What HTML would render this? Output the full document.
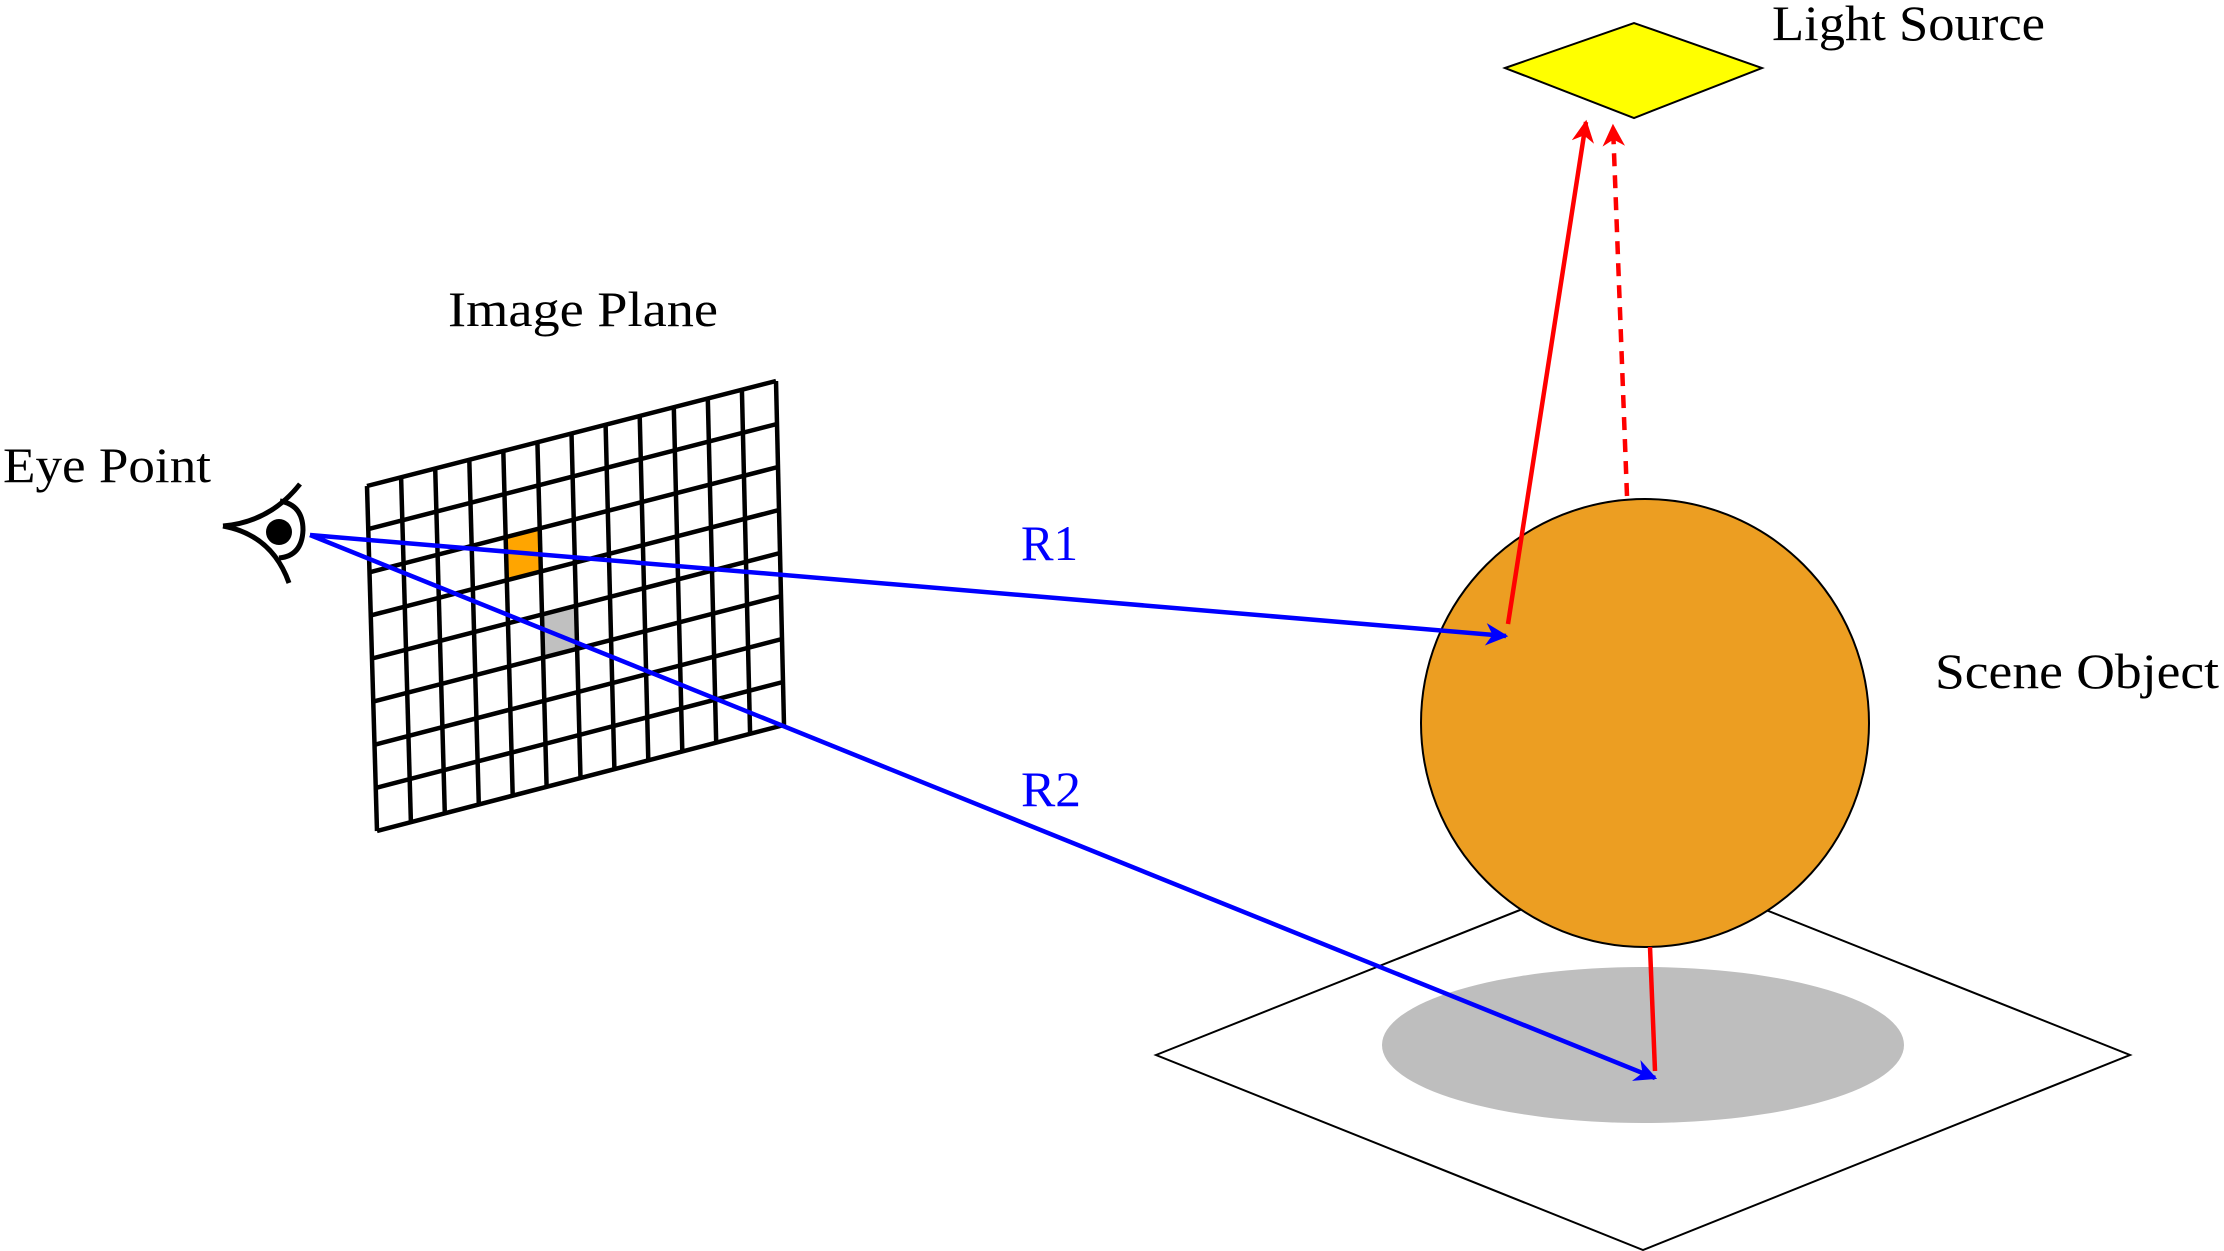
<!DOCTYPE html>
<html><head><meta charset="utf-8"><style>
html,body{margin:0;padding:0;background:#fff;}
svg{display:block;}
text{font-family:"Liberation Serif",serif;}
</style></head><body>
<svg width="2224" height="1251" viewBox="0 0 2224 1251">
<defs>
<marker id="ab" viewBox="0 0 10 10" refX="9" refY="5" markerWidth="6" markerHeight="5" orient="auto" markerUnits="strokeWidth"><path d="M0,0 L10,5 L0,10 L3,5 Z" fill="#0000ff"/></marker>
<marker id="ar" viewBox="0 0 10 10" refX="9" refY="5" markerWidth="6" markerHeight="5" orient="auto" markerUnits="strokeWidth"><path d="M0,0 L10,5 L0,10 L3,5 Z" fill="#ff0000"/></marker>
</defs>
<g id="floor">
<polygon points="1156,1055 1643,861 2130,1055 1643,1250" fill="none" stroke="#000" stroke-width="2"/>
<ellipse cx="1643" cy="1045" rx="261" ry="78" fill="#bebebe"/>
</g>
<circle cx="1645" cy="723" r="224" fill="#ec9e22" stroke="#000" stroke-width="2"/>
<polygon points="1505,68 1634,23 1762,68 1634,118" fill="#ffff00" stroke="#000" stroke-width="2"/>
<g id="grid"></g>
<g fill="none" stroke="#000" stroke-width="5">
<path d="M223,526 Q270,522 300,484"/>
<path d="M223,526 Q272,535 289,583"/>
<path d="M280,501 Q303,505 303,530 Q302,556 279,558"/>
<circle cx="279" cy="532" r="13" fill="#000" stroke="none"/>
</g>
<line x1="310" y1="535" x2="1506" y2="636" stroke="#0000ff" stroke-width="4.5" marker-end="url(#ab)"/>
<line x1="310" y1="535" x2="1655" y2="1078" stroke="#0000ff" stroke-width="4.5" marker-end="url(#ab)"/>
<line x1="1508" y1="624" x2="1586" y2="122" stroke="#ff0000" stroke-width="4.5" marker-end="url(#ar)"/>
<line x1="1627" y1="496" x2="1613" y2="126" stroke="#ff0000" stroke-width="4.5" stroke-dasharray="13,9" marker-end="url(#ar)"/>
<line x1="1650" y1="947" x2="1655" y2="1071" stroke="#ff0000" stroke-width="4.5"/>
<text x="3" y="482" font-size="50" textLength="208" lengthAdjust="spacingAndGlyphs">Eye Point</text>
<text x="448" y="326" font-size="50" textLength="270" lengthAdjust="spacingAndGlyphs">Image Plane</text>
<text x="1772" y="40" font-size="50" textLength="273" lengthAdjust="spacingAndGlyphs">Light Source</text>
<text x="1935" y="688" font-size="50" textLength="284" lengthAdjust="spacingAndGlyphs">Scene Object</text>
<text x="1021" y="560" font-size="50" fill="#0000ff" textLength="57" lengthAdjust="spacingAndGlyphs">R1</text>
<text x="1021" y="806" font-size="50" fill="#0000ff" textLength="60" lengthAdjust="spacingAndGlyphs">R2</text>
</svg>
<script>
const cols = 12, rows = 8;
const orangeCell = [4, 2];
const grayCell = [5, 4];
const TL=[367,486], TR=[776,381], BR=[784,725], BL=[377,831];
function P(u,v){
  const x=(1-u)*(1-v)*TL[0]+u*(1-v)*TR[0]+u*v*BR[0]+(1-u)*v*BL[0];
  const y=(1-u)*(1-v)*TL[1]+u*(1-v)*TR[1]+u*v*BR[1]+(1-u)*v*BL[1];
  return x.toFixed(1)+','+y.toFixed(1);
}
const ns='http://www.w3.org/2000/svg';
const g=document.getElementById('grid');
function cell(c,r,fill,name){
  const p=document.createElementNS(ns,'polygon');
  p.setAttribute('points',[P(c/cols,r/rows),P((c+1)/cols,r/rows),P((c+1)/cols,(r+1)/rows),P(c/cols,(r+1)/rows)].join(' '));
  p.setAttribute('fill',fill);
  
  
  g.appendChild(p);
}
cell(orangeCell[0],orangeCell[1],'#ffa500','hit-pixel');
cell(grayCell[0],grayCell[1],'#c0c0c0','shadow-pixel');
for(let i=0;i<=cols;i++){
  const l=document.createElementNS(ns,'polyline');
  l.setAttribute('points',P(i/cols,0)+' '+P(i/cols,1));
  l.setAttribute('stroke','#000');l.setAttribute('stroke-width','4.5');l.setAttribute('fill','none');
  
  
  g.appendChild(l);
}
for(let j=0;j<=rows;j++){
  const l=document.createElementNS(ns,'polyline');
  l.setAttribute('points',P(0,j/rows)+' '+P(1,j/rows));
  l.setAttribute('stroke','#000');l.setAttribute('stroke-width','4.5');l.setAttribute('fill','none');
  
  
  g.appendChild(l);
}
</script>
</body></html>
